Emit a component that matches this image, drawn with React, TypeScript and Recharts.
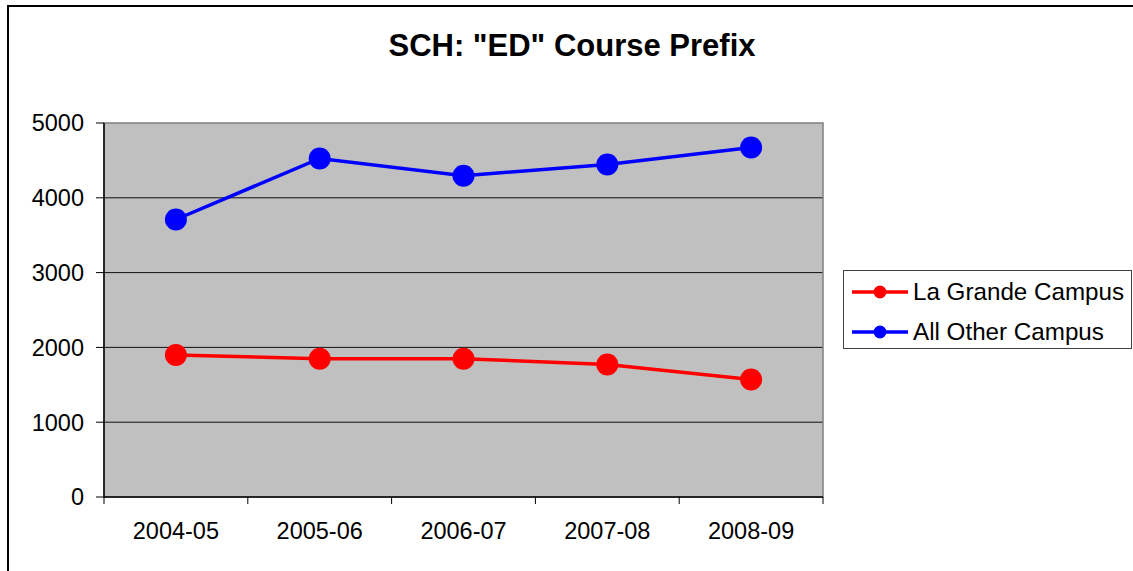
import React from "react";
import {
  LineChart,
  Line,
  XAxis,
  YAxis,
  CartesianGrid,
  ReferenceArea,
} from "recharts";

const years = ["2004-05", "2005-06", "2006-07", "2007-08", "2008-09"];
const laGrande = [1898, 1849, 1849, 1772, 1572];
const allOther = [3710, 4526, 4295, 4446, 4673];
const yTicks = [0, 1000, 2000, 3000, 4000, 5000];
const gridValues = [1000, 2000, 3000, 4000];
const seriesNames = ["La Grande Campus", "All Other Campus"];
const seriesColors = ["#FF0000", "#0000FF"];
const title = 'SCH: "ED" Course Prefix';

const data = years.map((y, i) => ({ year: y, laGrande: laGrande[i], allOther: allOther[i] }));

const FONT = "'Liberation Sans', Arial, sans-serif";
const X_TICK_MARGIN = 25;
const X_TICK_LEN = 7;

function CategoryTick(props: any) {
  const { x, y, payload, width, visibleTicksCount, index } = props;
  const band = width / (visibleTicksCount || years.length);
  const axisY = y - X_TICK_MARGIN;
  const left = x - band / 2;
  const right = x + band / 2;
  return (
    <g>
      <line x1={left} x2={left} y1={axisY} y2={axisY + X_TICK_LEN} stroke="#000" strokeWidth={1} />
      {index === visibleTicksCount - 1 && (
        <line x1={right} x2={right} y1={axisY} y2={axisY + X_TICK_LEN} stroke="#000" strokeWidth={1} />
      )}
      <text
        x={x}
        y={y}
        dy="0.71em"
        textAnchor="middle"
        fontSize={23.5}
        fontFamily={FONT}
        fill="#000"
      >
        {payload.value}
      </text>
    </g>
  );
}

export default function App() {
  return (
    <div
      style={{
        position: "absolute",
        left: 0,
        top: 0,
        width: 1133,
        height: 571,
        overflow: "hidden",
        background: "#fff",
        fontFamily: FONT,
      }}
    >
      <div
        style={{
          position: "absolute",
          left: 7,
          top: 5,
          width: 1124,
          height: 564,
          borderLeft: "2px solid #000",
          borderTop: "2px solid #000",
        }}
      />
      <svg style={{ position: "absolute", left: 0, top: 0 }} width={1133} height={80}>
        <text
          x={572}
          y={56}
          textAnchor="middle"
          fontFamily={FONT}
          fontWeight="bold"
          fontSize={31}
          fill="#000"
        >
          {title}
        </text>
      </svg>
      <div style={{ position: "absolute", left: 0, top: 0 }}>
        <LineChart
          width={1133}
          height={571}
          data={data}
          margin={{ top: 123, right: 310, left: 24, bottom: 24 }}
        >
          <CartesianGrid
            vertical={false}
            horizontalValues={gridValues}
            stroke="#111"
            strokeWidth={1}
            fill="#C0C0C0"
            fillOpacity={1}
          />
          <ReferenceArea y1={0} y2={5000} fill="none" stroke="#808080" strokeWidth={1.5} />
          <XAxis
            dataKey="year"
            scale="band"
            tickLine={false}
            tickSize={0}
            tickMargin={X_TICK_MARGIN}
            axisLine={{ stroke: "#000", strokeWidth: 1.5 }}
            tick={<CategoryTick />}
            height={50}
            interval={0}
          />
          <YAxis
            domain={[0, 5000]}
            ticks={yTicks}
            width={80}
            tickSize={8}
            tickMargin={12}
            tickLine={{ stroke: "#000", strokeWidth: 1 }}
            axisLine={{ stroke: "#000", strokeWidth: 1.5 }}
            tick={{ fontSize: 23.5, fill: "#000", fontFamily: FONT }}
            interval={0}
          />
          <Line
            dataKey="laGrande"
            stroke={seriesColors[0]}
            strokeWidth={3.5}
            dot={{ r: 11, fill: seriesColors[0], stroke: seriesColors[0], strokeWidth: 0 }}
            activeDot={false}
            isAnimationActive={false}
          />
          <Line
            dataKey="allOther"
            stroke={seriesColors[1]}
            strokeWidth={3.5}
            dot={{ r: 11, fill: seriesColors[1], stroke: seriesColors[1], strokeWidth: 0 }}
            activeDot={false}
            isAnimationActive={false}
          />
        </LineChart>
      </div>
      <div
        style={{
          position: "absolute",
          left: 843,
          top: 270,
          width: 287,
          height: 77,
          border: "1px solid #404040",
          background: "#fff",
        }}
      >
        {seriesNames.map((name, i) => (
          <div
            key={name}
            style={{
              position: "absolute",
              left: 0,
              top: 3 + i * 40,
              height: 36,
              display: "flex",
              alignItems: "center",
              whiteSpace: "nowrap",
            }}
          >
            <svg width={69} height={36} style={{ display: "block" }}>
              <line x1={8} x2={64} y1={18} y2={18} stroke={seriesColors[i]} strokeWidth={3.5} />
              <circle cx={36} cy={18} r={6.5} fill={seriesColors[i]} />
            </svg>
            <span style={{ fontSize: 24.2, fontFamily: FONT, color: "#000", lineHeight: "36px" }}>
              {name}
            </span>
          </div>
        ))}
      </div>
    </div>
  );
}
